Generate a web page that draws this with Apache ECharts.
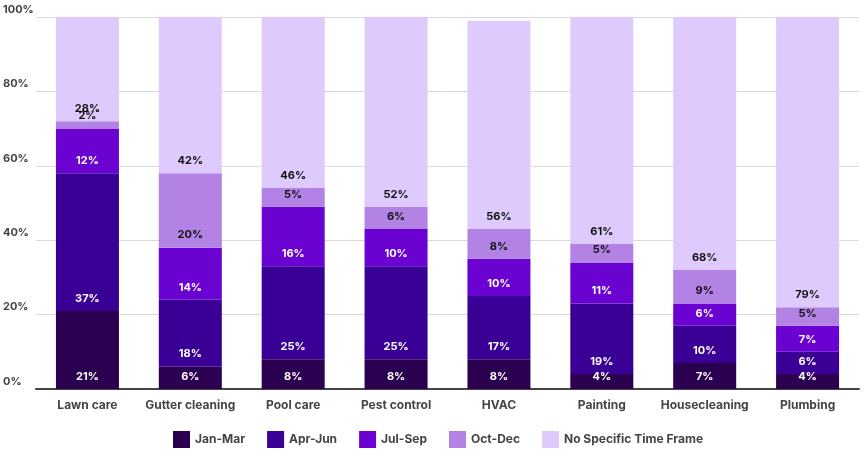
<!DOCTYPE html>
<html><head><meta charset="utf-8">
<script src="https://cdn.jsdelivr.net/npm/echarts@6/dist/echarts.min.js"></script>
<style>html,body{margin:0;padding:0;background:#fff}#main{width:864px;height:461px}</style>
</head><body><div id="main"></div>
<script>
var categories = ['Lawn care', 'Gutter cleaning', 'Pool care', 'Pest control', 'HVAC', 'Painting', 'Housecleaning', 'Plumbing']
var seriesNames = ['Jan-Mar', 'Apr-Jun', 'Jul-Sep', 'Oct-Dec', 'No Specific Time Frame']
var janMar = [21, 6, 8, 8, 8, 4, 7, 4]
var aprJun = [37, 18, 25, 25, 17, 19, 10, 6]
var julSep = [12, 14, 16, 10, 10, 11, 6, 7]
var octDec = [2, 20, 5, 6, 8, 5, 9, 5]
var noFrame = [28, 42, 46, 52, 56, 61, 68, 79]
var colors = ['#2c0050', '#3a0096', '#6a02d2', '#b283e4', '#dfcafd']
var textColors = ['#fff', '#fff', '#fff', '#111', '#111']

var myChart = echarts.init(document.getElementById('main'))
var font = 'Inter, "Noto Sans", sans-serif'
var allData = [janMar, aprJun, julSep, octDec, noFrame]
var series = allData.map(function (d, i) {
  return {
    name: seriesNames[i],
    type: 'bar',
    stack: 'total',
    barWidth: 63,
    data: d,
    itemStyle: { color: colors[i] },
    label: {
      show: true,
      position: 'insideBottom',
      distance: 7,
      formatter: '{c}%',
      color: textColors[i],
      fontFamily: font,
      fontWeight: 'bold',
      fontSize: 11
    }
  }
})
var option = {
  animation: false,
  grid: { left: 33, right: 5, top: 17, bottom: 72 },
  legend: {
    bottom: 8,
    left: 168,
    itemWidth: 17,
    itemHeight: 17,
    itemGap: 22,
    icon: 'rect',
    textStyle: { fontFamily: font, fontWeight: 'bold', fontSize: 12, color: '#444' },
    data: seriesNames
  },
  xAxis: {
    type: 'category',
    data: categories,
    axisTick: { show: false },
    axisLine: { lineStyle: { color: '#444', width: 2 } },
    axisLabel: { interval: 0, margin: 10, fontFamily: font, fontWeight: 'bold', fontSize: 12, color: '#444' }
  },
  yAxis: {
    type: 'value',
    min: 0,
    max: 100,
    interval: 20,
    splitLine: { lineStyle: { color: '#d9d9d9' } },
    axisLabel: {
      formatter: '{value}%',
      align: 'left',
      verticalAlign: 'bottom',
      margin: 33,
      padding: [0, 0, 2, 0],
      fontFamily: font,
      fontWeight: 'bold',
      fontSize: 11,
      color: '#444'
    }
  },
  series: series
}
myChart.setOption(option)
</script></body></html>
